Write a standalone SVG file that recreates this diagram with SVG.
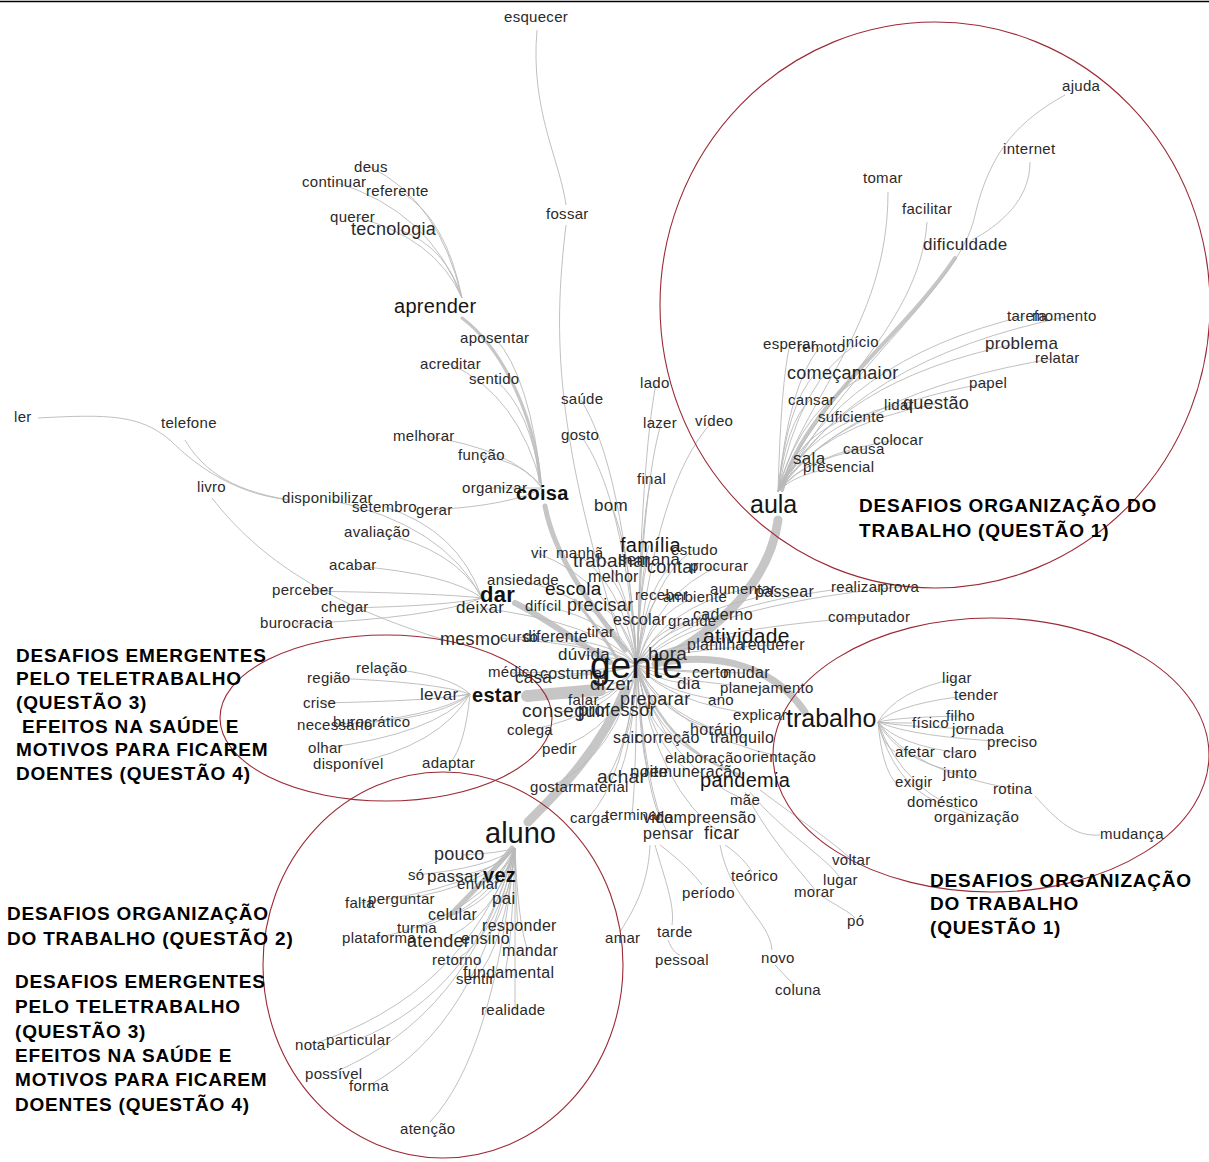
<svg xmlns="http://www.w3.org/2000/svg" width="1209" height="1162" viewBox="0 0 1209 1162">
<style>
text{font-family:"Liberation Sans",Arial,sans-serif;fill:#2a2a2a;font-size:15px;letter-spacing:0.3px}
.b{font-weight:bold;fill:#111}
.h{fill:#151515}
.lbl{font-weight:bold;font-size:19px;fill:#000;letter-spacing:0.8px}
.e{fill:none;stroke:#b9b9b9;stroke-width:0.9}
.t{fill:none;stroke:#c6c6c6;stroke-linecap:round}
.ring{fill:none;stroke:#9c2a36;stroke-width:1.1}
</style>
<rect width="1209" height="1162" fill="#fff"/>
<line x1="0" y1="1.5" x2="1209" y2="1.5" stroke="#000" stroke-width="1.5"/>
<g id="connectors">
<path class="t" stroke-width="9" d="M660,660 C720,630 770,580 778,520"/>
<path class="t" stroke-width="4" d="M782,490 C800,410 900,340 955,258"/>
<path class="t" stroke-width="7" d="M655,664 C720,650 775,668 805,712"/>
<path class="t" stroke-width="9" d="M625,690 C600,750 560,790 528,822"/>
<path class="t" stroke-width="12" d="M600,690 C570,692 550,694 527,696"/>
<path class="t" stroke-width="6" d="M610,662 C575,640 540,615 515,603"/>
<path class="t" stroke-width="5" d="M625,650 C595,610 555,560 545,506"/>
<path class="t" stroke-width="3" d="M618,660 C600,630 585,612 575,600"/>
<path class="t" stroke-width="3" d="M540,482 C535,420 505,350 462,318"/>
<path class="t" stroke-width="5" d="M512,848 C495,870 470,895 450,915"/>
<path class="t" stroke-width="2.5" d="M637,665 Q663,748 740,775"/>
<path class="e" d="M637,665 Q645,657 667,655"/>
<path class="e" d="M637,665 Q631,679 612,684"/>
<path class="e" d="M637,665 Q650,679 688,684"/>
<path class="e" d="M637,665 Q656,671 712,673"/>
<path class="e" d="M637,665 Q664,671 745,673"/>
<path class="e" d="M637,665 Q670,682 770,688"/>
<path class="e" d="M637,665 Q658,691 720,700"/>
<path class="e" d="M637,665 Q641,691 655,700"/>
<path class="e" d="M637,665 Q624,691 585,700"/>
<path class="e" d="M637,665 Q632,700 615,711"/>
<path class="e" d="M637,665 Q668,703 760,715"/>
<path class="e" d="M637,665 Q657,714 716,730"/>
<path class="e" d="M637,665 Q634,720 625,738"/>
<path class="e" d="M637,665 Q645,720 670,738"/>
<path class="e" d="M637,665 Q664,720 745,738"/>
<path class="e" d="M637,665 Q654,735 705,758"/>
<path class="e" d="M637,665 Q673,734 782,757"/>
<path class="e" d="M637,665 Q640,745 648,772"/>
<path class="e" d="M637,665 Q650,745 690,772"/>
<path class="e" d="M637,665 Q632,749 618,777"/>
<path class="e" d="M637,665 Q615,757 550,787"/>
<path class="e" d="M637,665 Q628,757 600,787"/>
<path class="e" d="M637,665 Q625,780 588,818"/>
<path class="e" d="M637,665 Q636,778 632,815"/>
<path class="e" d="M637,665 Q643,780 660,818"/>
<path class="e" d="M637,665 Q645,792 668,834"/>
<path class="e" d="M637,665 Q658,792 722,834"/>
<path class="e" d="M637,665 Q664,766 745,800"/>
<path class="e" d="M637,665 Q624,658 584,655"/>
<path class="e" d="M637,665 Q628,640 600,632"/>
<path class="e" d="M637,665 Q616,644 555,637"/>
<path class="e" d="M637,665 Q606,644 515,637"/>
<path class="e" d="M637,665 Q603,645 500,638"/>
<path class="e" d="M637,665 Q612,675 535,678"/>
<path class="e" d="M637,665 Q605,671 510,673"/>
<path class="e" d="M637,665 Q620,672 570,674"/>
<path class="e" d="M637,665 Q610,714 530,730"/>
<path class="e" d="M637,665 Q617,728 557,749"/>
<path class="e" d="M637,665 Q618,700 560,712"/>
<path class="e" d="M637,665 Q598,622 480,608"/>
<path class="e" d="M637,665 Q614,621 545,606"/>
<path class="e" d="M637,665 Q628,621 600,606"/>
<path class="e" d="M637,665 Q638,631 640,620"/>
<path class="e" d="M637,665 Q650,632 690,621"/>
<path class="e" d="M637,665 Q659,627 724,615"/>
<path class="e" d="M637,665 Q663,643 740,636"/>
<path class="e" d="M637,665 Q657,650 715,645"/>
<path class="e" d="M637,665 Q671,650 772,645"/>
<path class="e" d="M637,665 Q643,612 660,595"/>
<path class="e" d="M637,665 Q652,614 695,597"/>
<path class="e" d="M637,665 Q664,608 745,589"/>
<path class="e" d="M637,665 Q674,610 785,592"/>
<path class="e" d="M637,665 Q692,606 855,587"/>
<path class="e" d="M637,665 Q703,606 900,587"/>
<path class="e" d="M637,665 Q695,629 870,617"/>
<path class="e" d="M637,665 Q630,599 610,577"/>
<path class="e" d="M637,665 Q645,591 670,567"/>
<path class="e" d="M637,665 Q640,586 648,560"/>
<path class="e" d="M637,665 Q629,586 605,560"/>
<path class="e" d="M637,665 Q640,575 649,545"/>
<path class="e" d="M637,665 Q651,579 693,550"/>
<path class="e" d="M637,665 Q658,591 720,566"/>
<path class="e" d="M637,665 Q621,581 575,553"/>
<path class="e" d="M637,665 Q612,581 537,553"/>
<path class="e" d="M637,665 Q608,601 520,580"/>
<path class="e" d="M637,665 Q630,545 611,505"/>
<path class="e" d="M637,665 Q640,526 651,480"/>
<path class="e" d="M637,665 Q643,484 661,424"/>
<path class="e" d="M637,665 Q656,483 712,422"/>
<path class="e" d="M637,665 Q642,454 656,384"/>
<path class="e" d="M637,665 Q623,493 581,436"/>
<path class="e" d="M637,665 Q623,466 581,400"/>
<path class="e" d="M537,30 C530,110 560,160 566,205"/>
<path class="e" d="M566,225 C555,320 550,420 620,640"/>
<path class="e" d="M542,488 Q529,488 490,488"/>
<path class="e" d="M542,488 Q526,463 480,455"/>
<path class="e" d="M542,488 Q513,449 425,436"/>
<path class="e" d="M542,488 Q514,505 432,510"/>
<path class="e" d="M542,488 Q530,376 495,338"/>
<path class="e" d="M542,488 Q519,395 450,364"/>
<path class="e" d="M542,488 Q530,407 495,380"/>
<path class="e" d="M462,298 Q446,247 400,230"/>
<path class="e" d="M462,298 Q435,237 355,217"/>
<path class="e" d="M462,298 Q430,211 335,182"/>
<path class="e" d="M462,298 Q439,200 370,167"/>
<path class="e" d="M462,298 Q446,218 400,191"/>
<path class="e" d="M482,598 Q444,524 330,500"/>
<path class="e" d="M482,598 Q458,530 385,507"/>
<path class="e" d="M482,598 Q456,549 377,532"/>
<path class="e" d="M482,598 Q450,574 355,566"/>
<path class="e" d="M482,598 Q438,593 305,591"/>
<path class="e" d="M482,598 Q448,606 345,608"/>
<path class="e" d="M482,598 Q435,618 295,624"/>
<path class="e" d="M290,500 C240,495 200,470 170,440 C140,415 110,414 38,418"/>
<path class="e" d="M185,440 C200,465 225,490 290,500"/>
<path class="e" d="M212,498 C260,560 330,605 445,640"/>
<path class="e" d="M470,694 Q465,695 458,696"/>
<path class="e" d="M470,694 Q435,682 330,678"/>
<path class="e" d="M470,694 Q448,674 382,668"/>
<path class="e" d="M470,694 Q432,701 320,703"/>
<path class="e" d="M470,694 Q436,717 335,725"/>
<path class="e" d="M470,694 Q446,715 375,722"/>
<path class="e" d="M470,694 Q434,734 325,748"/>
<path class="e" d="M470,694 Q440,746 350,764"/>
<path class="e" d="M470,694 Q465,746 450,763"/>
<path class="e" d="M515,848 Q502,853 462,855"/>
<path class="e" d="M515,848 Q490,868 415,875"/>
<path class="e" d="M515,848 Q499,870 452,877"/>
<path class="e" d="M515,848 Q511,869 500,876"/>
<path class="e" d="M515,848 Q506,875 478,884"/>
<path class="e" d="M515,848 Q512,886 503,899"/>
<path class="e" d="M515,848 Q476,889 360,903"/>
<path class="e" d="M515,848 Q487,886 403,899"/>
<path class="e" d="M515,848 Q500,898 453,915"/>
<path class="e" d="M515,848 Q491,908 417,928"/>
<path class="e" d="M515,848 Q516,907 518,926"/>
<path class="e" d="M515,848 Q481,916 377,938"/>
<path class="e" d="M515,848 Q496,919 438,942"/>
<path class="e" d="M515,848 Q507,916 484,939"/>
<path class="e" d="M515,848 Q518,925 528,951"/>
<path class="e" d="M515,848 Q500,932 456,960"/>
<path class="e" d="M515,848 Q512,942 505,973"/>
<path class="e" d="M515,848 Q505,946 475,979"/>
<path class="e" d="M515,848 Q515,970 515,1010"/>
<path class="e" d="M515,848 Q464,996 310,1045"/>
<path class="e" d="M515,848 Q476,992 357,1040"/>
<path class="e" d="M515,848 Q469,1018 330,1074"/>
<path class="e" d="M515,848 Q478,1027 368,1086"/>
<path class="e" d="M515,848 Q494,1054 430,1122"/>
<path class="e" d="M878,722 Q897,690 955,679"/>
<path class="e" d="M878,722 Q902,702 975,695"/>
<path class="e" d="M878,722 Q899,717 962,716"/>
<path class="e" d="M878,722 Q886,723 912,723"/>
<path class="e" d="M878,722 Q903,727 978,729"/>
<path class="e" d="M878,722 Q912,737 1012,742"/>
<path class="e" d="M878,722 Q882,744 895,752"/>
<path class="e" d="M878,722 Q898,745 960,753"/>
<path class="e" d="M878,722 Q898,760 960,773"/>
<path class="e" d="M878,722 Q882,767 895,782"/>
<path class="e" d="M878,722 Q912,772 1015,789"/>
<path class="e" d="M878,722 Q893,782 937,802"/>
<path class="e" d="M878,722 Q903,793 977,817"/>
<path class="e" d="M1035,796 C1065,830 1080,836 1100,835"/>
<path class="e" d="M778,492 C800,400 888,330 888,192"/>
<path class="e" d="M778,492 C805,410 920,330 927,222"/>
<path class="e" d="M972,240 C1000,225 1030,200 1030,162"/>
<path class="e" d="M1065,95 C1020,120 990,150 975,215 C960,290 830,380 782,492"/>
<path class="e" d="M778,492 Q781,381 790,344"/>
<path class="e" d="M778,492 Q789,383 820,347"/>
<path class="e" d="M778,492 Q798,380 860,342"/>
<path class="e" d="M778,492 Q787,404 815,374"/>
<path class="e" d="M778,492 Q801,404 870,374"/>
<path class="e" d="M778,492 Q786,423 810,400"/>
<path class="e" d="M778,492 Q796,436 850,417"/>
<path class="e" d="M778,492 Q807,427 895,405"/>
<path class="e" d="M778,492 Q817,426 935,404"/>
<path class="e" d="M778,492 Q830,410 988,383"/>
<path class="e" d="M778,492 Q834,381 1015,344"/>
<path class="e" d="M778,492 Q840,360 1025,316"/>
<path class="e" d="M778,492 Q851,360 1070,316"/>
<path class="e" d="M778,492 Q848,392 1057,358"/>
<path class="e" d="M778,492 Q808,453 897,440"/>
<path class="e" d="M778,492 Q800,460 865,449"/>
<path class="e" d="M778,492 Q786,467 808,459"/>
<path class="e" d="M778,492 Q794,473 840,467"/>
<path class="e" d="M760,790 C800,820 830,840 850,858"/>
<path class="e" d="M750,792 C780,830 830,860 840,878"/>
<path class="e" d="M745,792 C770,840 800,870 815,890"/>
<path class="e" d="M820,895 C835,905 850,912 855,918"/>
<path class="e" d="M725,845 C740,855 748,865 752,872"/>
<path class="e" d="M720,845 C730,900 770,920 772,950"/>
<path class="e" d="M775,965 C785,975 790,982 795,985"/>
<path class="e" d="M660,845 C680,860 695,875 702,885"/>
<path class="e" d="M650,845 C648,890 630,915 620,932"/>
<path class="e" d="M655,845 C665,880 675,905 672,925"/>
<path class="e" d="M668,940 C672,950 676,954 680,955"/>
</g>
<g id="groups">
<ellipse class="ring" cx="935" cy="305" rx="275" ry="283"/>
<ellipse class="ring" cx="991" cy="755" rx="218" ry="137"/>
<ellipse class="ring" cx="386" cy="718" rx="166" ry="83"/>
<ellipse class="ring" cx="443" cy="965" rx="180" ry="193"/>
</g>
<g id="labels">
<text class="lbl" x="859" y="512">DESAFIOS ORGANIZAÇÃO DO</text>
<text class="lbl" x="859" y="537">TRABALHO (QUESTÃO 1)</text>
<text class="lbl" x="930" y="887">DESAFIOS ORGANIZAÇÃO</text>
<text class="lbl" x="930" y="910">DO TRABALHO</text>
<text class="lbl" x="930" y="934">(QUESTÃO 1)</text>
<text class="lbl" x="16" y="662">DESAFIOS EMERGENTES</text>
<text class="lbl" x="16" y="685">PELO TELETRABALHO</text>
<text class="lbl" x="16" y="709">(QUESTÃO 3)</text>
<text class="lbl" x="22" y="733">EFEITOS NA SAÚDE E</text>
<text class="lbl" x="16" y="756">MOTIVOS PARA FICAREM</text>
<text class="lbl" x="16" y="780">DOENTES (QUESTÃO 4)</text>
<text class="lbl" x="7" y="920">DESAFIOS ORGANIZAÇÃO</text>
<text class="lbl" x="7" y="945">DO TRABALHO (QUESTÃO 2)</text>
<text class="lbl" x="15" y="988">DESAFIOS EMERGENTES</text>
<text class="lbl" x="15" y="1013">PELO TELETRABALHO</text>
<text class="lbl" x="15" y="1038">(QUESTÃO 3)</text>
<text class="lbl" x="15" y="1062">EFEITOS NA SAÚDE E</text>
<text class="lbl" x="15" y="1086">MOTIVOS PARA FICAREM</text>
<text class="lbl" x="15" y="1111">DOENTES (QUESTÃO 4)</text>
</g>
<g id="nodes">
<g id="n-esquecer"><text x="504" y="22">esquecer</text></g>
<g id="n-fossar"><text x="546" y="219">fossar</text></g>
<g id="n-deus"><text x="354" y="172">deus</text></g>
<g id="n-continuar"><text x="302" y="187">continuar</text></g>
<g id="n-referente"><text x="366" y="196">referente</text></g>
<g id="n-querer"><text x="330" y="222">querer</text></g>
<g id="n-tecnologia"><text x="351" y="235" style="font-size:18px">tecnologia</text></g>
<g id="n-aprender"><text class="h" x="394" y="313" style="font-size:20px">aprender</text></g>
<g id="n-aposentar"><text x="460" y="343">aposentar</text></g>
<g id="n-acreditar"><text x="420" y="369">acreditar</text></g>
<g id="n-sentido"><text x="469" y="384">sentido</text></g>
<g id="n-saude"><text x="561" y="404">saúde</text></g>
<g id="n-lado"><text x="640" y="388">lado</text></g>
<g id="n-gosto"><text x="561" y="440">gosto</text></g>
<g id="n-lazer"><text x="643" y="428">lazer</text></g>
<g id="n-video"><text x="695" y="426">vídeo</text></g>
<g id="n-ler"><text x="14" y="422">ler</text></g>
<g id="n-telefone"><text x="161" y="428">telefone</text></g>
<g id="n-melhorar"><text x="393" y="441">melhorar</text></g>
<g id="n-funcao"><text x="458" y="460">função</text></g>
<g id="n-livro"><text x="197" y="492">livro</text></g>
<g id="n-organizar"><text x="462" y="493">organizar</text></g>
<g id="n-coisa"><text class="b" x="516" y="500" style="font-size:20px">coisa</text></g>
<g id="n-final"><text x="637" y="484">final</text></g>
<g id="n-disponibilizar"><text x="282" y="503">disponibilizar</text></g>
<g id="n-setembro"><text x="352" y="512">setembro</text></g>
<g id="n-gerar"><text x="416" y="515">gerar</text></g>
<g id="n-bom"><text x="594" y="511" style="font-size:17px">bom</text></g>
<g id="n-avaliacao"><text x="344" y="537">avaliação</text></g>
<g id="n-acabar"><text x="329" y="570">acabar</text></g>
<g id="n-vir"><text x="531" y="558">vir</text></g>
<g id="n-manha"><text x="556" y="558">manhã</text></g>
<g id="n-familia"><text class="h" x="620" y="552" style="font-size:20px">família</text></g>
<g id="n-estudo"><text x="671" y="555">estudo</text></g>
<g id="n-trabalhar"><text x="573" y="567" style="font-size:19px">trabalhar</text></g>
<g id="n-semana"><text x="618" y="565" style="font-size:17px">semana</text></g>
<g id="n-contar"><text x="647" y="573" style="font-size:18px">contar</text></g>
<g id="n-procurar"><text x="690" y="571">procurar</text></g>
<g id="n-melhor"><text x="588" y="582" style="font-size:16px">melhor</text></g>
<g id="n-ansiedade"><text x="487" y="585">ansiedade</text></g>
<g id="n-escola"><text class="h" x="545" y="595" style="font-size:19px">escola</text></g>
<g id="n-dar"><text class="b" x="480" y="602" style="font-size:22px">dar</text></g>
<g id="n-receber"><text x="635" y="600">receber</text></g>
<g id="n-ambiente"><text x="663" y="602">ambiente</text></g>
<g id="n-aumentar"><text x="710" y="594">aumentar</text></g>
<g id="n-passear"><text x="755" y="597" style="font-size:16px">passear</text></g>
<g id="n-realizar"><text x="831" y="592">realizar</text></g>
<g id="n-prova"><text x="880" y="592">prova</text></g>
<g id="n-dificil"><text x="525" y="611">difícil</text></g>
<g id="n-precisar"><text x="567" y="611" style="font-size:18px">precisar</text></g>
<g id="n-deixar"><text x="456" y="613" style="font-size:17px">deixar</text></g>
<g id="n-perceber"><text x="272" y="595">perceber</text></g>
<g id="n-chegar"><text x="321" y="612">chegar</text></g>
<g id="n-escolar"><text x="613" y="625" style="font-size:16px">escolar</text></g>
<g id="n-grande"><text x="668" y="626">grande</text></g>
<g id="n-caderno"><text x="693" y="620" style="font-size:16px">caderno</text></g>
<g id="n-computador"><text x="828" y="622">computador</text></g>
<g id="n-burocracia"><text x="260" y="628">burocracia</text></g>
<g id="n-mesmo"><text x="440" y="645" style="font-size:18px">mesmo</text></g>
<g id="n-curso"><text x="500" y="642">curso</text></g>
<g id="n-diferente"><text x="523" y="642" style="font-size:16px">diferente</text></g>
<g id="n-tirar"><text x="587" y="637">tirar</text></g>
<g id="n-atividade"><text class="h" x="703" y="643" style="font-size:21px">atividade</text></g>
<g id="n-planilha"><text x="687" y="650" style="font-size:16px">planilha</text></g>
<g id="n-requerer"><text x="742" y="650" style="font-size:16px">requerer</text></g>
<g id="n-duvida"><text x="558" y="660" style="font-size:17px">dúvida</text></g>
<g id="n-hora"><text x="648" y="660" style="font-size:19px">hora</text></g>
<g id="n-medico"><text x="488" y="677">médico</text></g>
<g id="n-casa"><text x="515" y="683" style="font-size:17px">casa</text></g>
<g id="n-costumar"><text x="540" y="679" style="font-size:16px">costumar</text></g>
<g id="n-gente"><text class="h" x="590" y="678" style="font-size:37px;letter-spacing:0">gente</text></g>
<g id="n-certo"><text x="692" y="678" style="font-size:16px">certo</text></g>
<g id="n-mudar"><text x="723" y="678" style="font-size:16px">mudar</text></g>
<g id="n-dizer"><text x="590" y="690" style="font-size:19px">dizer</text></g>
<g id="n-dia"><text x="677" y="689" style="font-size:17px">dia</text></g>
<g id="n-planejamento"><text x="720" y="693">planejamento</text></g>
<g id="n-estar"><text class="b" x="472" y="702" style="font-size:20px">estar</text></g>
<g id="n-falar"><text x="568" y="705">falar</text></g>
<g id="n-preparar"><text x="620" y="705" style="font-size:18px">preparar</text></g>
<g id="n-ano"><text x="708" y="705">ano</text></g>
<g id="n-conseguir"><text x="522" y="717" style="font-size:19px">conseguir</text></g>
<g id="n-professor"><text x="578" y="716" style="font-size:18px">professor</text></g>
<g id="n-explicar"><text x="733" y="720">explicar</text></g>
<g id="n-trabalho"><text class="h" x="786" y="727" style="font-size:25px;letter-spacing:0">trabalho</text></g>
<g id="n-colega"><text x="507" y="735">colega</text></g>
<g id="n-horario"><text x="690" y="735" style="font-size:16px">horário</text></g>
<g id="n-sair"><text x="613" y="743" style="font-size:16px">sair</text></g>
<g id="n-correcao"><text x="635" y="743" style="font-size:16px">correção</text></g>
<g id="n-tranquilo"><text x="710" y="743" style="font-size:16px">tranquilo</text></g>
<g id="n-pedir"><text x="542" y="754">pedir</text></g>
<g id="n-elaboracao"><text x="665" y="763">elaboração</text></g>
<g id="n-orientacao"><text x="743" y="762">orientação</text></g>
<g id="n-noite"><text x="630" y="777" style="font-size:17px">noite</text></g>
<g id="n-remuneracao"><text x="644" y="777" style="font-size:16px">remuneração</text></g>
<g id="n-achar"><text x="597" y="783" style="font-size:19px">achar</text></g>
<g id="n-pandemia"><text class="h" x="700" y="787" style="font-size:20px">pandemia</text></g>
<g id="n-gostar"><text x="530" y="792">gostar</text></g>
<g id="n-material"><text x="573" y="792">material</text></g>
<g id="n-mae"><text x="730" y="805">mãe</text></g>
<g id="n-terminar"><text x="605" y="820">terminar</text></g>
<g id="n-carga"><text x="570" y="823">carga</text></g>
<g id="n-vida"><text x="643" y="823" style="font-size:16px">vida</text></g>
<g id="n-compreensao"><text x="656" y="823" style="font-size:16px">compreensão</text></g>
<g id="n-aluno"><text class="h" x="485" y="843" style="font-size:29px;letter-spacing:0">aluno</text></g>
<g id="n-pensar"><text x="643" y="839" style="font-size:16px">pensar</text></g>
<g id="n-ficar"><text x="704" y="839" style="font-size:18px">ficar</text></g>
<g id="n-pouco"><text x="434" y="860" style="font-size:18px">pouco</text></g>
<g id="n-so"><text x="408" y="880">só</text></g>
<g id="n-passar"><text x="427" y="882" style="font-size:17px">passar</text></g>
<g id="n-vez"><text class="b" x="483" y="882" style="font-size:20px">vez</text></g>
<g id="n-enviar"><text x="457" y="889">enviar</text></g>
<g id="n-pai"><text x="492" y="904" style="font-size:17px">pai</text></g>
<g id="n-falta"><text x="345" y="908">falta</text></g>
<g id="n-perguntar"><text x="368" y="904">perguntar</text></g>
<g id="n-celular"><text x="428" y="920" style="font-size:16px">celular</text></g>
<g id="n-turma"><text x="397" y="933">turma</text></g>
<g id="n-responder"><text x="482" y="931" style="font-size:16px">responder</text></g>
<g id="n-plataforma"><text x="342" y="943">plataforma</text></g>
<g id="n-atender"><text x="407" y="947" style="font-size:18px">atender</text></g>
<g id="n-ensino"><text x="461" y="944" style="font-size:16px">ensino</text></g>
<g id="n-mandar"><text x="502" y="956" style="font-size:16px">mandar</text></g>
<g id="n-retorno"><text x="432" y="965">retorno</text></g>
<g id="n-fundamental"><text x="463" y="978" style="font-size:16px">fundamental</text></g>
<g id="n-sentir"><text x="456" y="984">sentir</text></g>
<g id="n-realidade"><text x="481" y="1015">realidade</text></g>
<g id="n-particular"><text x="326" y="1045">particular</text></g>
<g id="n-nota"><text x="295" y="1050">nota</text></g>
<g id="n-possivel"><text x="305" y="1079">possível</text></g>
<g id="n-forma"><text x="349" y="1091">forma</text></g>
<g id="n-atencao"><text x="400" y="1134">atenção</text></g>
<g id="n-amar"><text x="605" y="943">amar</text></g>
<g id="n-tarde"><text x="657" y="937">tarde</text></g>
<g id="n-pessoal"><text x="655" y="965">pessoal</text></g>
<g id="n-teorico"><text x="731" y="881">teórico</text></g>
<g id="n-periodo"><text x="682" y="898">período</text></g>
<g id="n-voltar"><text x="832" y="865">voltar</text></g>
<g id="n-lugar"><text x="823" y="885">lugar</text></g>
<g id="n-morar"><text x="794" y="897">morar</text></g>
<g id="n-po"><text x="847" y="926">pó</text></g>
<g id="n-novo"><text x="761" y="963">novo</text></g>
<g id="n-coluna"><text x="775" y="995">coluna</text></g>
<g id="n-ajuda"><text x="1062" y="91">ajuda</text></g>
<g id="n-internet"><text x="1003" y="154">internet</text></g>
<g id="n-tomar"><text x="863" y="183">tomar</text></g>
<g id="n-facilitar"><text x="902" y="214">facilitar</text></g>
<g id="n-dificuldade"><text x="923" y="250" style="font-size:17px">dificuldade</text></g>
<g id="n-tarefa"><text x="1007" y="321">tarefa</text></g>
<g id="n-momento"><text x="1032" y="321">momento</text></g>
<g id="n-esperar"><text x="763" y="349">esperar</text></g>
<g id="n-remoto"><text x="797" y="352">remoto</text></g>
<g id="n-inicio"><text x="842" y="347">início</text></g>
<g id="n-problema"><text x="985" y="349" style="font-size:17px">problema</text></g>
<g id="n-relatar"><text x="1035" y="363">relatar</text></g>
<g id="n-comecar"><text x="787" y="379" style="font-size:18px">começar</text></g>
<g id="n-maior"><text x="852" y="379" style="font-size:18px">maior</text></g>
<g id="n-papel"><text x="969" y="388">papel</text></g>
<g id="n-cansar"><text x="788" y="405">cansar</text></g>
<g id="n-lidar"><text x="884" y="410">lidar</text></g>
<g id="n-questao"><text x="903" y="409" style="font-size:18px">questão</text></g>
<g id="n-suficiente"><text x="818" y="422">suficiente</text></g>
<g id="n-colocar"><text x="873" y="445">colocar</text></g>
<g id="n-causa"><text x="843" y="454">causa</text></g>
<g id="n-sala"><text x="793" y="464" style="font-size:17px">sala</text></g>
<g id="n-presencial"><text x="803" y="472">presencial</text></g>
<g id="n-aula"><text class="h" x="750" y="513" style="font-size:25px;letter-spacing:0">aula</text></g>
<g id="n-ligar"><text x="942" y="683">ligar</text></g>
<g id="n-tender"><text x="954" y="700">tender</text></g>
<g id="n-filho"><text x="946" y="721">filho</text></g>
<g id="n-fisico"><text x="912" y="728">físico</text></g>
<g id="n-jornada"><text x="952" y="734">jornada</text></g>
<g id="n-preciso"><text x="987" y="747">preciso</text></g>
<g id="n-afetar"><text x="895" y="757">afetar</text></g>
<g id="n-claro"><text x="943" y="758">claro</text></g>
<g id="n-junto"><text x="943" y="778">junto</text></g>
<g id="n-exigir"><text x="895" y="787">exigir</text></g>
<g id="n-rotina"><text x="993" y="794">rotina</text></g>
<g id="n-domestico"><text x="907" y="807">doméstico</text></g>
<g id="n-organizacao"><text x="934" y="822">organização</text></g>
<g id="n-mudanca"><text x="1100" y="839">mudança</text></g>
<g id="n-regiao"><text x="307" y="683">região</text></g>
<g id="n-relacao"><text x="356" y="673">relação</text></g>
<g id="n-crise"><text x="303" y="708">crise</text></g>
<g id="n-levar"><text x="420" y="700" style="font-size:17px">levar</text></g>
<g id="n-necessario"><text x="297" y="730">necessário</text></g>
<g id="n-burocratico"><text x="333" y="727">burocrático</text></g>
<g id="n-olhar"><text x="308" y="753">olhar</text></g>
<g id="n-disponivel"><text x="313" y="769">disponível</text></g>
<g id="n-adaptar"><text x="422" y="768">adaptar</text></g>
</g>
</svg>
